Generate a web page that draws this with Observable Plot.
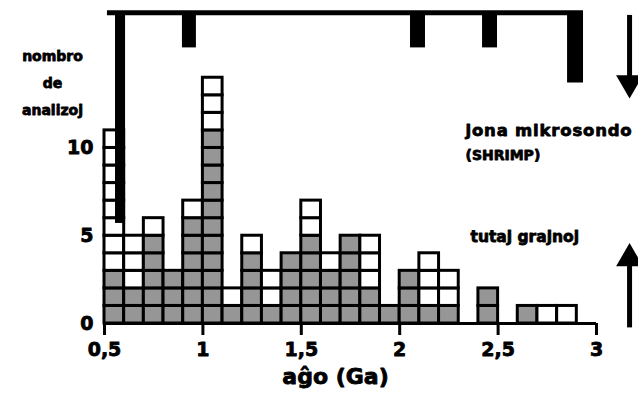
<!DOCTYPE html>
<html>
<head>
<meta charset="utf-8">
<script src="https://cdn.jsdelivr.net/npm/d3@7"></script>
<script src="https://cdn.jsdelivr.net/npm/@observablehq/plot@0.6"></script>
<style>
  html, body { margin: 0; padding: 0; background: #fff; }
  #chart { width: 638px; height: 419px; }
  svg text { font-family: "DejaVu Sans", sans-serif; font-weight: bold; stroke: black; stroke-width: 0.8px; paint-order: stroke; stroke-linejoin: round; }
</style>
</head>
<body>
<div id="chart"></div>
<script>
// Histogram bins (Ga), bin width 0.1
const binStart = [0.5, 0.6, 0.7, 0.8, 0.9, 1.0, 1.1, 1.2, 1.3, 1.4, 1.5, 1.6,
                  1.7, 1.8, 1.9, 2.0, 2.1, 2.2, 2.3, 2.4, 2.5, 2.6, 2.7, 2.8];
const binWidth = 0.1;
const totalCounts = [11, 5, 6, 3, 7, 14, 2, 5, 3, 4, 7, 4, 5, 5, 1, 3, 4, 3, 0, 2, 0, 1, 1, 1];
const grayCounts  = [ 3, 2, 5, 3, 6, 11, 1, 4, 1, 4, 5, 3, 5, 2, 1, 3, 1, 1, 0, 2, 0, 1, 0, 0];

// Ion microprobe (SHRIMP) markers hanging from the top bar
const shrimpStart  = [0.556, 0.896, 2.055, 2.421, 2.853];
const shrimpEnd    = [0.607, 0.967, 2.131, 2.497, 2.934];
const shrimpCounts = [12, 2, 2, 2, 4];
const shrimpTop = 17.7;
const shrimpBarFrom = 0.515, shrimpBarTo = 2.934;

const xTicks = [0.5, 1, 1.5, 2, 2.5, 3];
const yTicks = [0, 5, 10];

// one rectangle per counted analysis
const units = [];
binStart.forEach((s, i) => {
  for (let k = 0; k < totalCounts[i]; k++) {
    units.push({x1: s, x2: s + binWidth, y1: k, y2: k + 1, kind: k < grayCounts[i] ? "gray" : "white"});
  }
});
const shrimp = shrimpStart.map((s, i) => ({x1: s, x2: shrimpEnd[i], y1: shrimpTop - shrimpCounts[i], y2: shrimpTop}));

const fmt = d => String(d).replace(".", ",");
const arrowX = 3.168;

const chart = Plot.plot({
  width: 638,
  height: 419,
  marginLeft: 104,
  marginRight: 42,
  marginTop: 0,
  marginBottom: 96,
  x: {domain: [0.5, 3]},
  y: {domain: [0, 18.4]},
  style: {fontFamily: "DejaVu Sans", fontWeight: "bold", color: "black", background: "white"},
  marks: [
    Plot.rect(units, {x1: "x1", x2: "x2", y1: "y1", y2: "y2",
      fill: d => d.kind === "gray" ? "#969696" : "white", stroke: "black", strokeWidth: 3}),
    Plot.rect(shrimp, {x1: "x1", x2: "x2", y1: "y1", y2: "y2", fill: "black"}),
    Plot.ruleY([shrimpTop], {x1: shrimpBarFrom, x2: shrimpBarTo, stroke: "black", strokeWidth: 5}),
    Plot.ruleY([0], {stroke: "black", strokeWidth: 3}),
    Plot.axisX({ticks: xTicks, tickSize: 12, tickPadding: 7, strokeWidth: 3, tickFormat: fmt, fontSize: 19, fontWeight: "bold", label: null}),
    Plot.axisY({ticks: yTicks, tickSize: 0, tickPadding: 11, fontSize: 19, fontWeight: "bold", label: null}),
    Plot.text(["aĝo (Ga)"], {frameAnchor: "bottom", dx: -15, dy: 60, fontSize: 22, fontWeight: "bold"}),
    Plot.text(["nombro\nde\nanalizoj"], {frameAnchor: "top-left", dx: -52, dy: 79, textAnchor: "middle", lineHeight: 1.9, fontSize: 14, fontWeight: "bold", lineAnchor: "middle"}),
    Plot.text(["jona mikrosondo"], {frameAnchor: "top-right", dx: -131, dy: 130, textAnchor: "start", lineAnchor: "middle", fontSize: 16.5, fontWeight: "bold"}),
    Plot.text(["(SHRIMP)"], {frameAnchor: "top-right", dx: -131, dy: 155, textAnchor: "start", lineAnchor: "middle", fontSize: 14, fontWeight: "bold"}),
    Plot.text(["tutaj grajnoj"], {frameAnchor: "top-right", dx: -126, dy: 237, textAnchor: "start", lineAnchor: "middle", fontSize: 15.5, fontWeight: "bold"}),
    // arrows
    Plot.ruleX([arrowX], {y1: 17.55, y2: 13.4, strokeWidth: 5}),
    Plot.dot([arrowX], {x: d => d, y: 13.7, symbol: "triangle", r: 10, fill: "black", rotate: 180}),
    Plot.ruleX([arrowX], {y1: -0.25, y2: 4.0, strokeWidth: 5}),
    Plot.dot([arrowX], {x: d => d, y: 3.7, symbol: "triangle", r: 10, fill: "black"})
  ]
});
d3.select(chart).selectAll("text")
  .filter(function () { return this.textContent === "jona mikrosondo"; })
  .attr("letter-spacing", "0.8px");
document.getElementById("chart").appendChild(chart);
</script>
</body>
</html>
